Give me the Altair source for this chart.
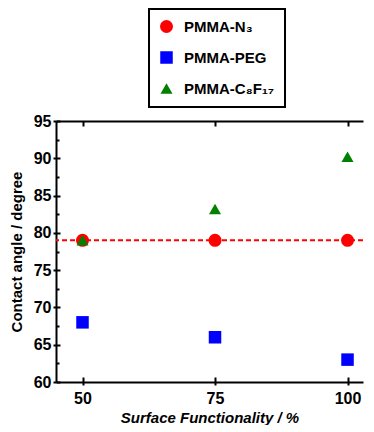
import altair as alt
import pandas as pd

functionality = [50, 75, 100]
series = ["PMMA-N₃", "PMMA-PEG", "PMMA-C₈F₁₇"]
n3 = [79, 79, 79]
peg = [68, 66, 63]
c8f17 = [79, 83.2, 90.2]
colors = ["#ff0000", "#0000ff", "#008000"]
shapes = ["circle", "square", "triangle-up"]
marker_sizes = [169, 144, 370]
reference_line = [79]
x_major = [50, 75, 100]
y_major = [60, 65, 70, 75, 80, 85, 90, 95]
y_minor = [62.5, 67.5, 72.5, 77.5, 82.5, 87.5, 92.5]

rows = []
for name, vals in zip(series, [n3, peg, c8f17]):
    for f, v in zip(functionality, vals):
        rows.append({"f": f, "v": v, "series": name})
df = pd.DataFrame(rows)

xscale = alt.Scale(domain=[45, 102.92], nice=False, zero=False)
yscale = alt.Scale(domain=[60, 95], nice=False, zero=False)

FONT = "Liberation Sans"

legend = alt.Legend(
    title=None, orient="none", legendX=93, legendY=-112,
    strokeColor="black", padding=10,
    symbolStrokeWidth=0, labelFontSize=15,
    labelFont=FONT, labelFontWeight="bold", labelColor="black",
    rowPadding=15, labelOffset=10,
)

points = alt.Chart(df).mark_point(filled=True, opacity=1, strokeWidth=0).encode(
    x=alt.X("f:Q", scale=xscale, axis=alt.Axis(
        values=x_major, title="Surface Functionality / %", titleFontStyle="italic",
        tickSize=3, labelPadding=5, titlePadding=4)),
    y=alt.Y("v:Q", scale=yscale, axis=alt.Axis(
        values=y_major, title="Contact angle / degree",
        tickSize=3, labelPadding=2, titlePadding=9)),
    color=alt.Color("series:N", scale=alt.Scale(domain=series, range=colors), legend=legend),
    shape=alt.Shape("series:N", scale=alt.Scale(domain=series, range=shapes), legend=legend),
    size=alt.Size("series:N", scale=alt.Scale(domain=series, range=marker_sizes), legend=legend),
)

rule = alt.Chart(pd.DataFrame({"y": reference_line})).mark_rule(
    color="#ff0000", strokeDash=[5, 3], strokeWidth=2).encode(
    y=alt.Y("y:Q", scale=yscale, axis=None))

inner_major = alt.Chart(df).mark_point(opacity=0).encode(
    x=alt.X("f:Q", scale=xscale, axis=alt.Axis(
        orient="bottom", values=x_major, labels=False, domain=False, title=None,
        tickSize={"expr": "-5"})),
    y=alt.Y("v:Q", scale=yscale, axis=alt.Axis(
        orient="left", values=y_major, labels=False, domain=False, title=None,
        tickSize={"expr": "-4"})),
)

inner_frame = alt.Chart(df).mark_point(opacity=0).encode(
    x=alt.X("f:Q", scale=xscale, axis=alt.Axis(
        orient="top", values=x_major, labels=False, title=None,
        tickSize={"expr": "-5"})),
    y=alt.Y("v:Q", scale=yscale, axis=alt.Axis(
        orient="left", values=y_minor, labels=False, domain=False, title=None,
        tickSize={"expr": "-3"})),
)

chart = alt.layer(rule, points, inner_major, inner_frame).resolve_axis(
    x="independent", y="independent"
).properties(
    width=307, height=261,
    padding={"left": 1, "top": 0, "right": 0, "bottom": 0},
).configure_view(stroke=None).configure_axis(
    grid=False, domainColor="black", domainWidth=2, tickColor="black", tickWidth=2,
    labelFont=FONT, labelFontWeight="bold", labelFontSize=16, labelColor="black",
    titleFont=FONT, titleFontWeight="bold", titleFontSize=15, titleColor="black",
).configure_legend(strokeWidth=2)

chart.save("out.html", embed_options={"renderer": "svg", "actions": False})
